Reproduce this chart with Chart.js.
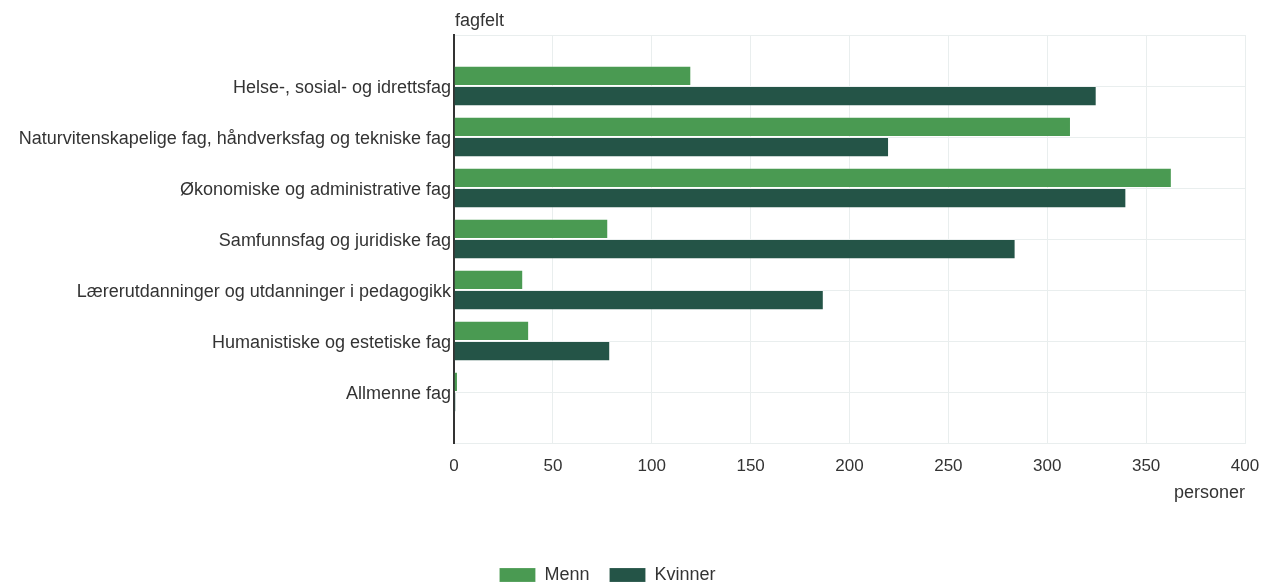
<!DOCTYPE html>
<html>
<head>
<meta charset="utf-8">
<script src="https://cdn.jsdelivr.net/npm/chart.js@4"></script>
<style>
html,body{margin:0;padding:0;background:#fff;}
#wrap{width:1274px;height:585px;}
</style>
</head>
<body>
<div id="wrap"><canvas id="fagChart"></canvas></div>
<script>
const categories = [
"Helse-, sosial- og idrettsfag",
"Naturvitenskapelige fag, håndverksfag og tekniske fag",
"Økonomiske og administrative fag",
"Samfunnsfag og juridiske fag",
"Lærerutdanninger og utdanninger i pedagogikk",
"Humanistiske og estetiske fag",
"Allmenne fag"
];
const menn = [120, 312, 363, 78, 35, 38, 2];
const kvinner = [325, 220, 340, 284, 187, 79, 1];
const xTicks = [0, 50, 100, 150, 200, 250, 300, 350, 400];

// empty slot above and below so the grid gets a line at top and bottom
const axisLabels = ["", ...categories, ""];
const pad = (arr) => [null, ...arr, null];

Chart.defaults.font.family = "'Liberation Sans', Arial, sans-serif";
Chart.defaults.font.size = 18;
Chart.defaults.color = "#333";

const axisTitle = {
id: "axisTitle",
afterDraw(chart){
const c = chart.ctx;
c.save();
c.font = "18px 'Liberation Sans', Arial, sans-serif";
c.fillStyle = "#333";
c.textBaseline = "middle";
c.textAlign = "left";
c.fillText("fagfelt", chart.chartArea.left + 1, 21);
c.restore();
}
};

const shiftLegend = {
id: "shiftLegend",
afterLayout(chart){
chart.legend.left -= 15;
chart.legend.right -= 15;
chart.legend.top += 9;
chart.legend.bottom += 9;
}
};

const ctx = document.getElementById("fagChart");

new Chart(ctx,{
type:"bar",
data:{
labels:axisLabels,
datasets:[{
label:"Menn",
data:pad(menn),
backgroundColor:"#4a9a52",
borderColor:"rgba(255,255,255,0.18)",
borderWidth:1
},{
label:"Kvinner",
data:pad(kvinner),
backgroundColor:"#245447",
borderColor:"rgba(255,255,255,0.15)",
borderWidth:1
}]
},
options:{
indexAxis:"y",
responsive:true,
maintainAspectRatio:false,
animation:false,
layout:{padding:{top:35,right:29,bottom:0,left:0}},
categoryPercentage:0.79,
barPercentage:1.0,
scales:{
x:{
min:0,
max:400,
afterBuildTicks:(s)=>{ s.ticks = xTicks.map(v=>({value:v})); },
grid:{color:"#e9eeee",drawTicks:false},
border:{color:"#e9eeee"},
ticks:{padding:13,font:{size:17}},
title:{display:true,text:"personer",align:"end",padding:{top:4,bottom:33}},
afterFit:(s)=>{ s.height = 94; }
},
y:{
offset:false,
grid:{color:"#e9eeee",offset:false,drawTicks:false},
border:{color:"#333",width:2},
ticks:{padding:3,labelOffset:2},
afterFit:(s)=>{ s.width = 454; }
}
},
plugins:{
legend:{
position:"bottom",
labels:{boxWidth:36,boxHeight:14,padding:20}
},
tooltip:{enabled:false}
}
},
plugins:[axisTitle, shiftLegend]
});
</script>
</body>
</html>
